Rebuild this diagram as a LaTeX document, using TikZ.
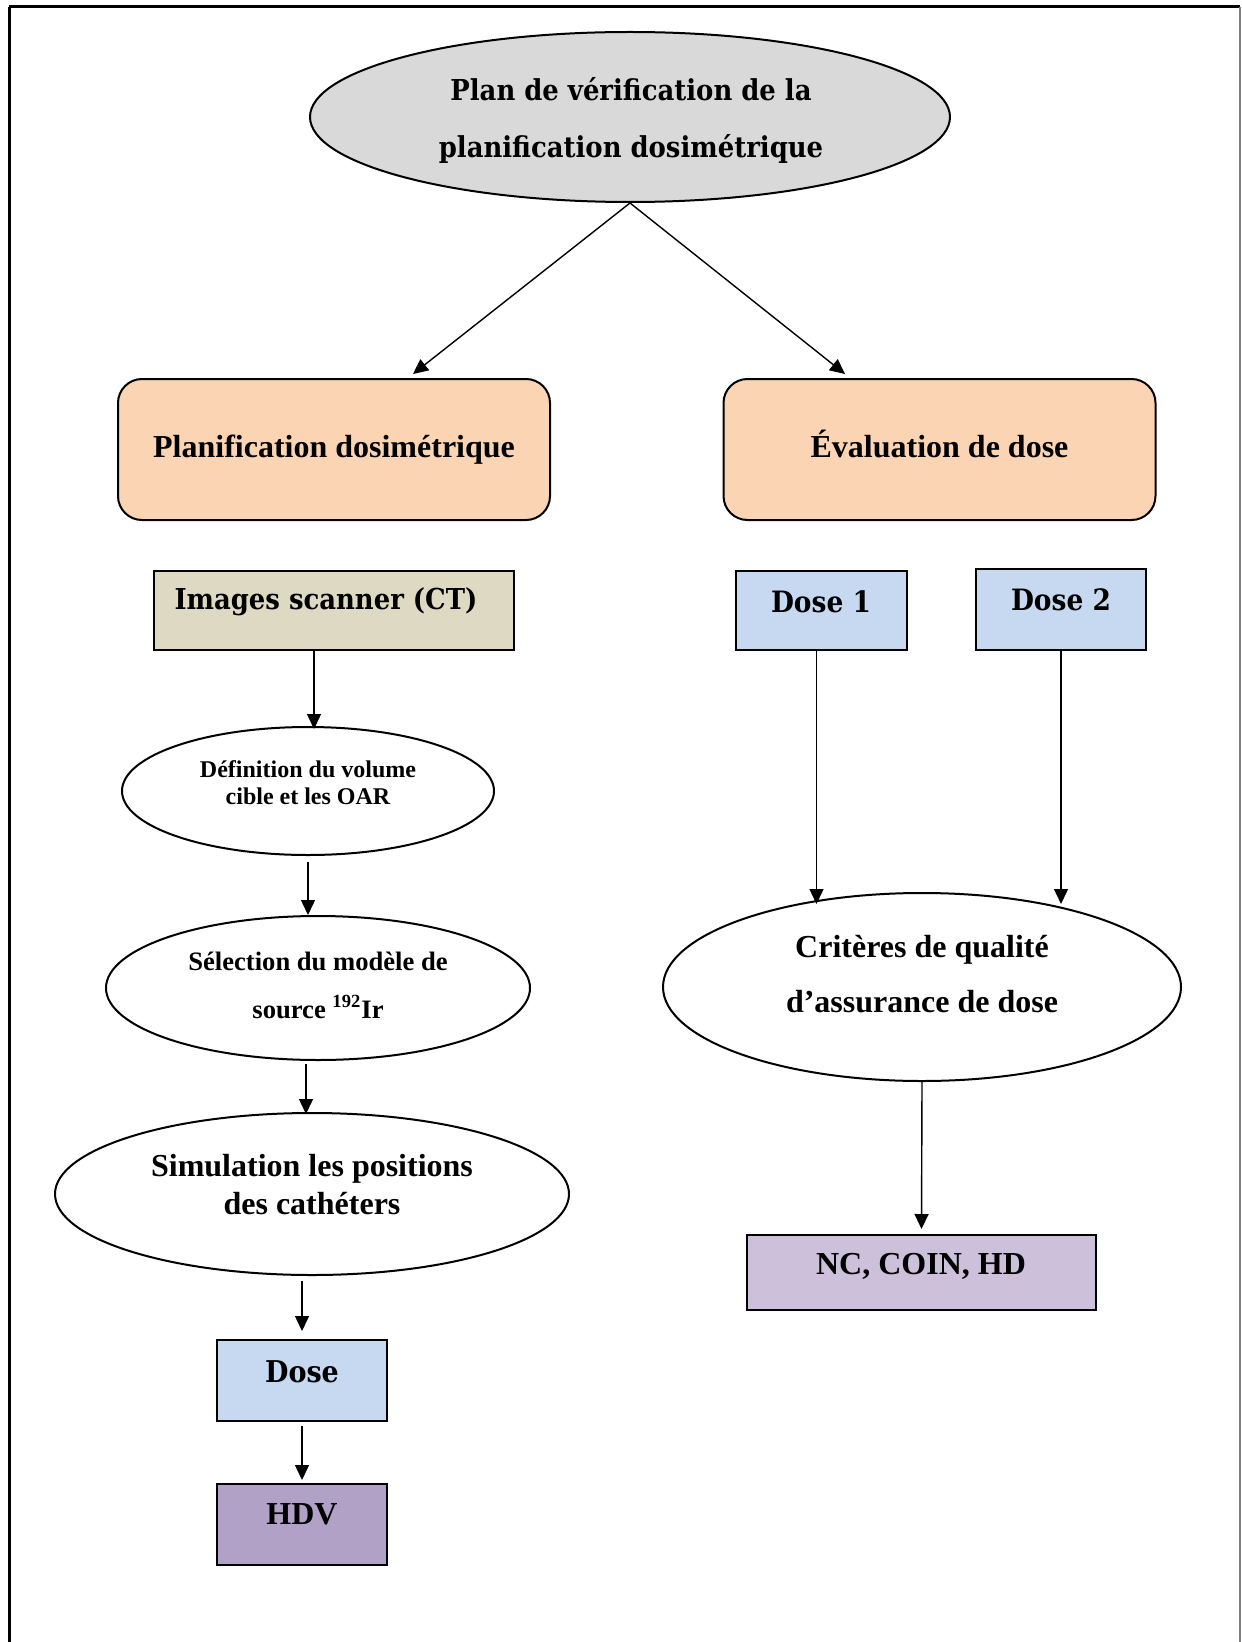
\documentclass[tikz,border=0pt]{standalone}
\usepackage{fontspec}
\setmainfont{Liberation Serif}
\newfontfamily\cambr{DejaVu Serif Condensed}
\usetikzlibrary{shapes.geometric,arrows.meta,calc}
\definecolor{titlegray}{HTML}{D9D9D9}
\definecolor{peach}{HTML}{FBD4B4}
\definecolor{tan}{HTML}{DDD9C3}
\definecolor{lblue}{HTML}{C6D9F1}
\definecolor{purpA}{HTML}{B2A1C7}
\definecolor{purpB}{HTML}{CCC0DA}
\tikzset{
  arr/.style={-{Triangle[length=7.5pt,width=7pt]}, line width=0.7pt},
  ell/.style={ellipse, draw, line width=1pt, inner sep=0pt},
  rbox/.style={rectangle, rounded corners=12pt, draw, line width=1pt, fill=peach, inner sep=0pt,
     minimum width=216pt, minimum height=70.5pt, text height=11pt, text depth=3.5pt,
     font=\fontsize{16}{19}\selectfont\bfseries},
  sbox/.style={rectangle, draw, line width=1pt, inner sep=0pt},
  txt/.style={align=center, inner sep=0pt}
}
\begin{document}
\begin{tikzpicture}[x=0.5pt, y=-0.5pt]
\useasboundingbox (0,0) rectangle (1241,1642);
% frame
\draw[line width=1.5pt] (9,7) -- (1240,7);
\draw[line width=1.5pt] (9,7) -- (9,1660);
\draw[line width=1pt, gray] (1240,7) -- (1240,1660);

% title
\node[ell, fill=titlegray, minimum width=320pt, minimum height=85pt] (title) at (630,117) {};
\node[txt, font=\cambr\fontsize{14.4}{28.5}\selectfont\bfseries] (titleT) at (631,120)
  {Plan de vérification de la\\planification dosimétrique};

% second level
\node[rbox] (plan) at (334,449.5) {Planification dosimétrique};
\node[rbox] (eval) at (939.5,449.5) {Évaluation de dose};
\coordinate (aL) at (413,374);
\coordinate (aR) at (845,374);
\draw[arr] (title.south) -- (aL);
\draw[arr] (title.south) -- (aR);

% left column
\node[sbox, fill=tan, minimum width=180pt, minimum height=39.5pt] (img) at (334,610.5) {};
\node[txt, font=\cambr\fontsize{14.4}{18}\selectfont\bfseries] (imgT) at (326,602) {Images scanner (CT)};

\node[ell, minimum width=186pt, minimum height=64pt] (def) at (308,791) {};
\node[txt, font=\fontsize{12}{13.5}\selectfont\bfseries] (defT) at (308,782.5) {Définition du volume\\cible et les OAR};

\node[ell, minimum width=212pt, minimum height=72pt] (sel) at (318,988) {};
\node[txt, font=\fontsize{13.3}{24}\selectfont\bfseries] (selT) at (318,985) {Sélection du modèle de\\source \textsuperscript{192}Ir};

\node[ell, minimum width=257pt, minimum height=81pt] (sim) at (312,1194) {};
\node[txt, font=\fontsize{16}{18.75}\selectfont\bfseries] (simT) at (312,1184.5) {Simulation les positions\\des cathéters};

\node[sbox, fill=lblue, minimum width=85pt, minimum height=40.5pt] (dose) at (302,1380.5) {};
\node[txt, font=\cambr\fontsize{15}{18}\selectfont\bfseries] (doseT) at (302,1372) {Dose};

\node[sbox, fill=purpA, minimum width=85pt, minimum height=40.5pt] (hdv) at (302,1524.5) {};
\node[txt, font=\fontsize{16}{19}\selectfont\bfseries] (hdvT) at (302,1514) {HDV};

\draw[arr] ($(img.south)+(-20,0)$) -- ($(img.south)+(-20,78)$);
\draw[arr] ($(def.south)+(0,6)$) -- (def.south |- sel.north);
\draw[arr] ($(sel.south)+(-12,3)$) -- ($(sel.south)+(-12,53)$);
\draw[arr] ($(sim.south -| dose.north)+(0,5)$) -- ($(dose.north)+(0,-8)$);
\draw[arr] ($(dose.south)+(0,4)$) -- ($(hdv.north)+(0,-3)$);

% right column
\node[sbox, fill=lblue, minimum width=85.5pt, minimum height=39.5pt] (d1) at (821.5,610.5) {};
\node[txt, font=\cambr\fontsize{14.7}{18}\selectfont\bfseries] (d1T) at (821,602) {Dose 1};
\node[sbox, fill=lblue, minimum width=85pt, minimum height=40.5pt] (d2) at (1061,609.5) {};
\node[txt, font=\cambr\fontsize{14.7}{18}\selectfont\bfseries] (d2T) at (1061,600) {Dose 2};

\node[ell, minimum width=259pt, minimum height=94pt] (crit) at (922,987) {};
\node[txt, font=\fontsize{16}{27.5}\selectfont\bfseries] (critT) at (922,974.5) {Critères de qualité\\d’assurance de dose};

\node[sbox, fill=purpB, minimum width=174.5pt, minimum height=37.5pt] (nc) at (921.5,1272.5) {};
\node[txt, font=\fontsize{16}{19}\selectfont\bfseries] (ncT) at (921,1266) {NC, COIN, HD};

\draw[arr] ($(d1.south)+(-5,0)$) -- ++(0,253);
\draw[arr] (d2.south) -- ++(0,253);
\draw[arr] (crit.south) -- ($(nc.north)+(0,-5)$);
\end{tikzpicture}
\end{document}
